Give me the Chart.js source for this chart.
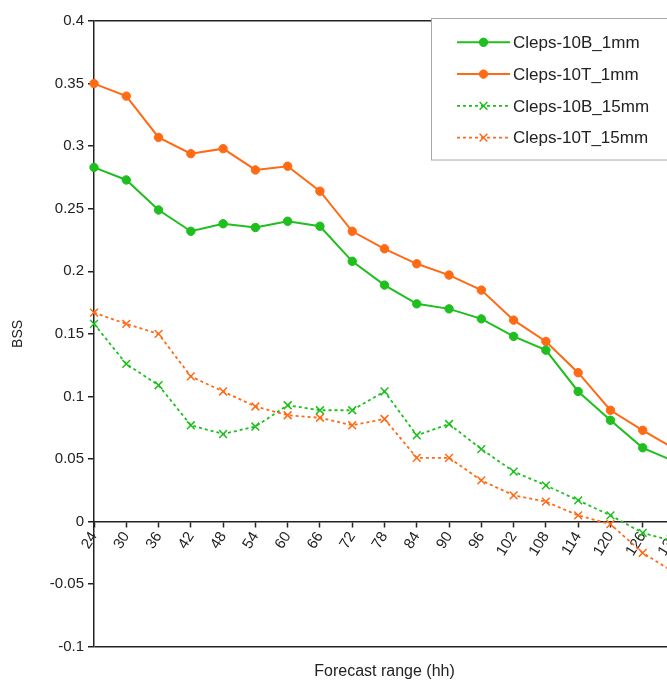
<!DOCTYPE html>
<html>
<head>
<meta charset="utf-8">
<script src="https://cdn.jsdelivr.net/npm/chart.js@4/dist/chart.umd.min.js"></script>
<style>
    html, body { margin: 0; padding: 0; background: #fff; overflow: hidden; }
    #wrap { position: absolute; left: 0; top: 0; width: 700px; height: 681px; }
</style>
</head>
<body>
<div id="wrap"><canvas id="chart" width="700" height="681"></canvas></div>
<script>
// Forecast range (hh)
const ranges = ['24', '30', '36', '42', '48', '54', '60', '66', '72', '78', '84', '90', '96', '102', '108', '114', '120', '126', '132'];

// BSS per series
const cleps10B_1mm = [0.283, 0.273, 0.249, 0.232, 0.238, 0.235, 0.240, 0.236, 0.208, 0.189, 0.174, 0.170, 0.162, 0.148, 0.137, 0.104, 0.081, 0.059, 0.048];
const cleps10T_1mm = [0.350, 0.340, 0.307, 0.294, 0.298, 0.281, 0.284, 0.264, 0.232, 0.218, 0.206, 0.197, 0.185, 0.161, 0.144, 0.119, 0.089, 0.073, 0.058];
const cleps10B_15mm = [0.158, 0.126, 0.109, 0.077, 0.070, 0.076, 0.093, 0.089, 0.089, 0.104, 0.069, 0.078, 0.058, 0.040, 0.029, 0.017, 0.005, -0.009, -0.016];
const cleps10T_15mm = [0.167, 0.158, 0.150, 0.116, 0.104, 0.092, 0.085, 0.083, 0.077, 0.082, 0.051, 0.051, 0.033, 0.021, 0.016, 0.005, -0.002, -0.025, -0.041];

const GREEN = '#1ebf1e';
const ORANGE = '#ff6a14';

Chart.defaults.font.family = "'Liberation Sans', Arial, sans-serif";
Chart.defaults.color = '#222';

function solid(label, data, color) {
    return {
        label, data,
        borderColor: color, backgroundColor: color,
        borderWidth: 2, pointStyle: 'circle', pointRadius: 4.2,
        pointBorderWidth: 1, tension: 0
    };
}

function dashed(label, data, color) {
    return {
        label, data,
        borderColor: color, backgroundColor: color,
        borderWidth: 1.8, borderDash: [3, 3], pointStyle: 'crossRot',
        pointRadius: 5.5, pointBorderWidth: 1.5, tension: 0
    };
}

// Legend box drawn inside the plot, top right
const boxLegend = {
    id: 'boxLegend',
    afterDraw(chart) {
        const ctx = chart.ctx;
        ctx.save();
        ctx.fillStyle = '#fff';
        ctx.fillRect(431.5, 18.5, 262, 141.5);
        ctx.strokeStyle = '#a8a8a8';
        ctx.lineWidth = 1;
        ctx.strokeRect(431.5, 18.5, 262, 141.5);
        chart.data.datasets.forEach((ds, i) => {
            const y = 42.3 + i * 31.8;
            ctx.strokeStyle = ds.borderColor;
            ctx.lineWidth = ds.borderWidth;
            ctx.setLineDash(ds.borderDash || []);
            ctx.beginPath();
            ctx.moveTo(457, y);
            ctx.lineTo(510, y);
            ctx.stroke();
            ctx.setLineDash([]);
            ctx.fillStyle = ds.backgroundColor;
            ctx.strokeStyle = ds.borderColor;
            ctx.lineWidth = ds.pointBorderWidth;
            Chart.helpers.drawPoint(ctx, {
                pointStyle: ds.pointStyle, rotation: 0,
                radius: ds.pointRadius, borderWidth: ds.pointBorderWidth
            }, 483.5, y);
            ctx.fillStyle = '#222';
            ctx.font = "17px 'Liberation Sans', Arial, sans-serif";
            ctx.textBaseline = 'middle';
            ctx.textAlign = 'left';
            ctx.fillText(ds.label, 513, y + 1);
        });
        ctx.restore();
    }
};

new Chart(document.getElementById('chart'), {
    type: 'line',
    data: {
        labels: ranges,
        datasets: [
            solid('Cleps-10B_1mm', cleps10B_1mm, GREEN),
            solid('Cleps-10T_1mm', cleps10T_1mm, ORANGE),
            dashed('Cleps-10B_15mm', cleps10B_15mm, GREEN),
            dashed('Cleps-10T_15mm', cleps10T_15mm, ORANGE)
        ]
    },
    options: {
        responsive: false,
        animation: false,
        layout: { padding: { top: 21, right: 25, left: 0, bottom: 0 } },
        plugins: {
            legend: { display: false },
            tooltip: { enabled: false }
        },
        scales: {
            x: {
                type: 'category',
                position: { y: 0 },
                offset: false,
                grid: { drawOnChartArea: false, tickColor: '#222', tickLength: 5, tickWidth: 1.5 },
                border: { color: '#222', width: 1.5 },
                ticks: {
                    autoSkip: false, minRotation: 58, maxRotation: 58,
                    padding: 2, font: { size: 15 }, color: '#222'
                }
            },
            x2: {
                type: 'category',
                position: 'bottom',
                grid: { display: false },
                border: { display: false },
                ticks: { display: false },
                title: {
                    display: true, text: 'Forecast range (hh)',
                    font: { size: 16 }, color: '#222',
                    padding: { top: 7, bottom: 0 }
                }
            },
            y: {
                min: -0.1,
                max: 0.4,
                afterFit(scale) { scale.width = 94; },
                grid: {
                    color: (c) => (c.tick && (Math.abs(c.tick.value - 0.4) < 1e-6 || Math.abs(c.tick.value + 0.1) < 1e-6)) ? '#222' : 'rgba(0,0,0,0)',
                    lineWidth: 1.5,
                    tickColor: '#222', tickLength: 6, tickWidth: 1.5
                },
                border: { color: '#222', width: 1.5 },
                ticks: {
                    stepSize: 0.05, padding: 4, font: { size: 15 }, color: '#222',
                    callback: (v) => String(Number(v.toFixed(2)))
                },
                title: {
                    display: true, text: 'BSS',
                    font: { size: 14 }, color: '#222',
                    padding: { top: 10, bottom: 0 }
                }
            }
        }
    },
    plugins: [boxLegend]
});
</script>
</body>
</html>
